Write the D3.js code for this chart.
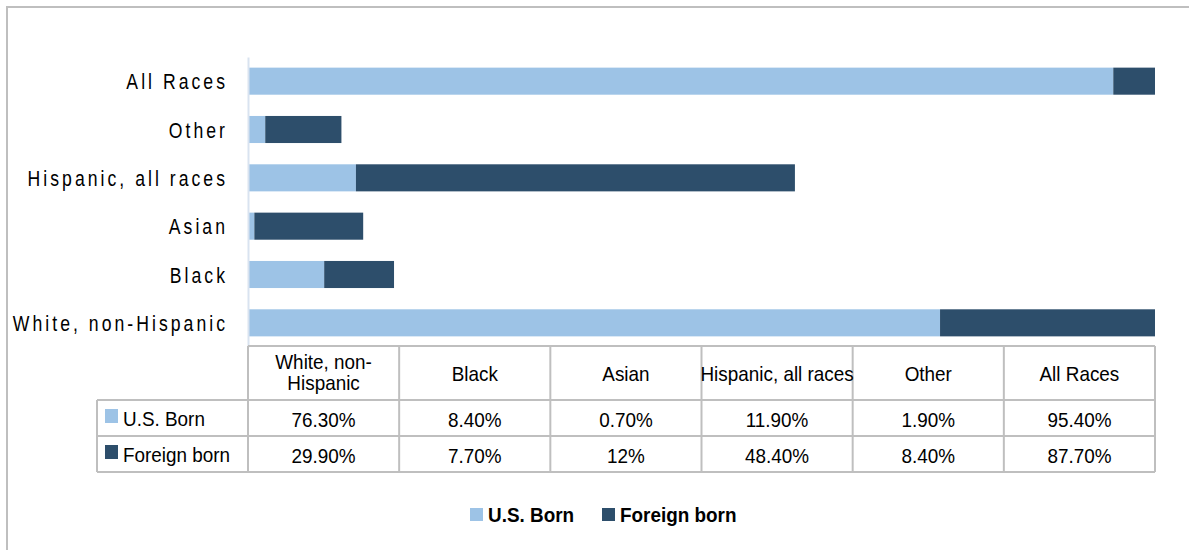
<!DOCTYPE html>
<html>
<head>
<meta charset="utf-8">
<script src="https://cdn.jsdelivr.net/npm/d3@7"></script>
<style>
  body { margin: 0; background: #fff; }
  text { font-family: "Liberation Sans", Arial, sans-serif; fill: #000; }
</style>
</head>
<body>
<div id="wrapper"></div>
<script>
// data
const categories = ["White, non-Hispanic", "Black", "Asian", "Hispanic, all races", "Other", "All Races"];
const usBorn = [76.3, 8.4, 0.7, 11.9, 1.9, 95.4];
const foreignBorn = [29.9, 7.7, 12, 48.4, 8.4, 87.7];
const usBornLabels = ["76.30%", "8.40%", "0.70%", "11.90%", "1.90%", "95.40%"];
const foreignBornLabels = ["29.90%", "7.70%", "12%", "48.40%", "8.40%", "87.70%"];
const headerLabels = [["White, non-", "Hispanic"], ["Black"], ["Asian"], ["Hispanic, all races"], ["Other"], ["All Races"]];
const seriesNames = ["U.S. Born", "Foreign born"];
const colors = ["#9dc3e6", "#2d4e6b"];

// text in the original is a bit condensed, so squeeze it horizontally
function addText(parent, x, y, str, size, sx, anchor, bold) {
    return parent.append("text")
        .attr("transform", `translate(${x}, ${y}) scale(${sx}, 1)`)
        .attr("text-anchor", anchor || "start")
        .style("font-size", size + "px")
        .style("font-weight", bold ? "bold" : "normal")
        .text(str);
}

function buildChart() {
    const dimension = {
        width: 1189,
        height: 550,
        plot: { left: 248, right: 1155, top: 57, bottom: 347 },
        table: { left: 97, headTop: 346, rowH: 36, headH: 54 }
    };
    const tableFont = 21, tableSx = 0.9;

    const svg = d3.select("#wrapper").append("svg")
        .attr("width", dimension.width)
        .attr("height", dimension.height);

    // outer chart border
    svg.append("rect")
        .attr("x", 7).attr("y", 7)
        .attr("width", 1200).attr("height", 600)
        .attr("fill", "none")
        .attr("stroke", "#bfbfbf")
        .attr("stroke-width", 2);

    const xScaler = d3.scaleLinear()
        .domain([0, 100])
        .range([dimension.plot.left, dimension.plot.right]);

    const yScaler = d3.scaleBand()
        .domain(categories.slice().reverse())
        .range([dimension.plot.top, dimension.plot.bottom])
        .paddingInner(0.44)
        .paddingOuter(0.22);

    const rows = categories.map((c, i) => ({ cat: c, us: usBorn[i], fb: foreignBorn[i] }));
    const stacked = d3.stack().keys(["us", "fb"])(rows);

    // bars are clipped at 100%
    svg.append("clipPath").attr("id", "plotClip")
        .append("rect")
        .attr("x", dimension.plot.left).attr("y", dimension.plot.top)
        .attr("width", dimension.plot.right - dimension.plot.left)
        .attr("height", dimension.plot.bottom - dimension.plot.top);

    const barsG = svg.append("g").attr("clip-path", "url(#plotClip)");
    stacked.forEach((layer, li) => {
        barsG.append("g")
            .selectAll("rect")
            .data(layer)
            .join("rect")
            .attr("x", d => xScaler(d[0]))
            .attr("y", d => yScaler(d.data.cat))
            .attr("width", d => xScaler(d[1]) - xScaler(d[0]))
            .attr("height", yScaler.bandwidth())
            .attr("fill", colors[li]);
    });

    // category axis
    const yAxis = d3.axisLeft(yScaler).tickSize(0).tickFormat("");
    const yAxisG = svg.append("g")
        .attr("transform", `translate(${dimension.plot.left}, 0)`)
        .call(yAxis);
    yAxisG.select(".domain").attr("stroke", "#d9e3f0").attr("stroke-width", 2);
    yAxisG.selectAll(".tick").each(function (d) {
        addText(d3.select(this), -20, 8, d, 22, 0.8, "end")
            .style("letter-spacing", "3.8px");
    });

    // data table
    const colScaler = d3.scaleBand()
        .domain(categories)
        .range([dimension.plot.left, dimension.plot.right]);

    const t = dimension.table;
    const row1 = t.headTop + t.headH;
    const row2 = row1 + t.rowH;
    const row3 = row2 + t.rowH;
    const tableG = svg.append("g");
    const lineStyle = sel => sel.attr("stroke", "#bfbfbf").attr("stroke-width", 2);

    // horizontal lines
    tableG.append("line").attr("x1", dimension.plot.left).attr("x2", dimension.plot.right)
        .attr("y1", t.headTop).attr("y2", t.headTop).call(lineStyle);
    [row1, row2, row3].forEach(y => {
        tableG.append("line").attr("x1", t.left).attr("x2", dimension.plot.right)
            .attr("y1", y).attr("y2", y).call(lineStyle);
    });
    // vertical lines
    tableG.append("line").attr("x1", t.left).attr("x2", t.left)
        .attr("y1", row1).attr("y2", row3).call(lineStyle);
    categories.forEach(c => {
        tableG.append("line").attr("x1", colScaler(c)).attr("x2", colScaler(c))
            .attr("y1", t.headTop).attr("y2", row3).call(lineStyle);
    });
    tableG.append("line").attr("x1", dimension.plot.right).attr("x2", dimension.plot.right)
        .attr("y1", t.headTop).attr("y2", row3).call(lineStyle);

    // header text
    categories.forEach((c, i) => {
        const lines = headerLabels[i];
        const cx = colScaler(c) + colScaler.bandwidth() / 2;
        const startY = lines.length > 1 ? t.headTop + 23 : t.headTop + 35;
        lines.forEach((l, j) => {
            addText(tableG, cx, startY + j * 21, l, tableFont, tableSx, "middle");
        });
    });

    // value rows
    [usBornLabels, foreignBornLabels].forEach((labels, ri) => {
        const top = ri === 0 ? row1 : row2;
        tableG.append("rect")
            .attr("x", 105).attr("y", top + 9)
            .attr("width", 13).attr("height", 14)
            .attr("fill", colors[ri]);
        addText(tableG, 123, top + 26, seriesNames[ri], tableFont, tableSx, "start");
        categories.forEach((c, i) => {
            addText(tableG, colScaler(c) + colScaler.bandwidth() / 2, top + 27,
                labels[i], tableFont, tableSx, "middle");
        });
    });

    // legend
    const legend = svg.append("g").attr("transform", "translate(470, 508)");
    const legendX = [0, 132];
    seriesNames.forEach((name, i) => {
        legend.append("rect")
            .attr("x", legendX[i]).attr("y", 0)
            .attr("width", 13).attr("height", 13)
            .attr("fill", colors[i]);
        addText(legend, legendX[i] + 18, 14, name, 21, 0.9, "start", true);
    });
}

buildChart();
</script>
</body>
</html>
